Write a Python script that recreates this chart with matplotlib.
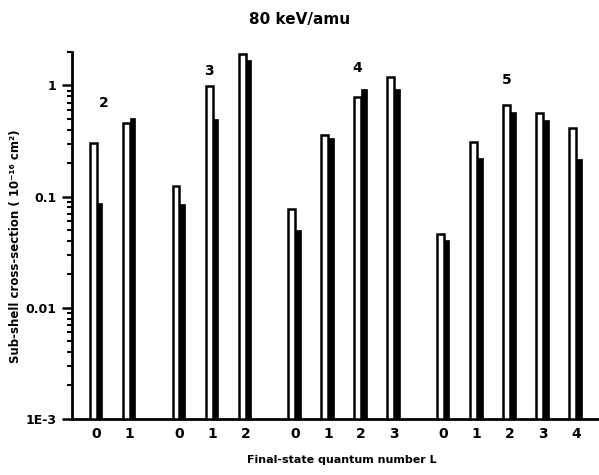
import numpy as np
import matplotlib.pyplot as plt
from matplotlib.ticker import LogLocator, FixedLocator, NullFormatter

# principal quantum number n of each shell, and the L sub-shells in it
shells = [2, 3, 4, 5]
sub_shells = [[0, 1], [0, 1, 2], [0, 1, 2, 3], [0, 1, 2, 3, 4]]

# sub-shell cross-sections (10^-16 cm^2) at 80 keV/amu
open_values = [[0.30, 0.46],
               [0.123, 0.98, 1.90],
               [0.076, 0.36, 0.78, 1.18],
               [0.045, 0.31, 0.67, 0.56, 0.41]]
filled_values = [[0.088, 0.51],
                 [0.085, 0.50, 1.68],
                 [0.050, 0.34, 0.93, 0.92],
                 [0.041, 0.224, 0.58, 0.49, 0.22]]

y_ticks = [1e-3, 1e-2, 1e-1, 1]
y_tick_labels = ['1E-3', '0.01', '0.1', '1']

plt.rcParams['font.family'] = 'DejaVu Sans'
plt.rcParams['font.weight'] = 'bold'

fig = plt.figure(figsize=(5.99, 4.75), dpi=100)
ax = fig.add_axes([0.120, 0.118, 0.880, 0.7725])

# bar positions: one unit between sub-shells, 1.5 units between shells
positions = []
x = 0.0
for subs in sub_shells:
    grp = []
    for _ in subs:
        grp.append(x)
        x += 1.0
    x += 0.5
    positions.append(grp)

w_open = 0.21
w_fill = 0.17
# where each shell number sits (offset from first bar of the shell, height)
label_offsets = {2: 0.32, 3: 1.0, 4: 2.0, 5: 2.0}
label_heights = {2: 0.70, 3: 1.34, 4: 1.45, 5: 1.13}

for n, grp, ov, fv in zip(shells, positions, open_values, filled_values):
    grp = np.array(grp)
    ax.bar(grp, ov, width=w_open, bottom=1e-3, color='white',
           edgecolor='black', linewidth=1.8, zorder=3)
    ax.bar(grp + w_open / 2 + w_fill / 2, np.array(fv) - 1e-3, width=w_fill,
           bottom=1e-3, color='black', edgecolor='black', linewidth=0.5, zorder=2)
    ax.text(grp[0] + label_offsets[n], label_heights[n], str(n),
            ha='center', va='center', fontsize=10, fontweight='bold')

all_pos = [p for grp in positions for p in grp]
all_l = [l for subs in sub_shells for l in subs]

ax.set_yscale('log')
ax.set_ylim(1e-3, 2.0)
ax.set_xlim(-0.65, 15.3)

ax.yaxis.set_major_locator(FixedLocator(y_ticks))
ax.set_yticklabels(y_tick_labels)
ax.yaxis.set_minor_locator(LogLocator(base=10, subs=np.arange(2, 10)))
ax.yaxis.set_minor_formatter(NullFormatter())
ax.tick_params(axis='y', which='major', length=7, width=1.8, labelsize=9, pad=4)
ax.tick_params(axis='y', which='minor', length=3.5, width=1.5)

ax.set_xticks(np.array(all_pos) + 0.1)
ax.set_xticklabels([str(l) for l in all_l])
ax.tick_params(axis='x', length=0, labelsize=10, pad=6)

for side in ['top', 'right']:
    ax.spines[side].set_visible(False)
ax.spines['left'].set_linewidth(2)
ax.spines['bottom'].set_linewidth(2)

fig.text(0.5, 0.958, '80 keV/amu', ha='center', va='center',
         fontsize=11, fontweight='bold')
fig.text(0.571, 0.032, 'Final-state quantum number L', ha='center', va='center',
         fontsize=8, fontweight='bold')
fig.text(0.026, 0.482, 'Sub-shell cross-section ( 10⁻¹⁶ cm²)', ha='center',
         va='center', rotation=90, fontsize=8.5, fontweight='bold')

fig.savefig('out.png', dpi=100)
